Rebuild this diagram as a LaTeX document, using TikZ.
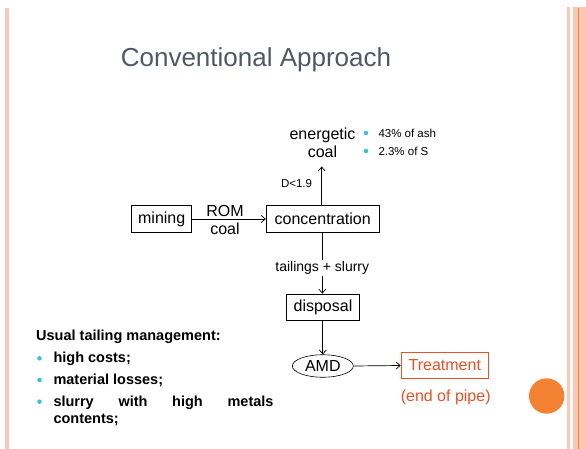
\documentclass[tikz,border=0pt]{standalone}
\usepackage{fontspec}
\setmainfont{Liberation Sans}
\usetikzlibrary{shapes.geometric,arrows.meta}
\definecolor{pale}{HTML}{FCC8B4}
\definecolor{darkor}{HTML}{F58232}
\definecolor{titlecol}{HTML}{4F5867}
\definecolor{redor}{HTML}{F04E23}
\definecolor{cyanb}{HTML}{2EC4D6}
\begin{document}
\begin{tikzpicture}[x=1pt,y=-1pt,
  box/.style={draw,line width=0.8pt,inner sep=0pt,font=\fontsize{16}{18}\selectfont},
  lbl/.style={font=\fontsize{14}{16}\selectfont,inner sep=1pt},
  small/.style={font=\fontsize{11.5}{13}\selectfont,inner sep=0pt},
  arr/.style={-{Straight Barb[length=4pt,width=7pt]},line width=0.7pt},
  bul/.style={circle,fill=cyanb,inner sep=0pt,minimum size=4.5pt},
  lt/.style={font=\fontsize{14.5}{17.6}\selectfont\bfseries,inner sep=0pt,anchor=west}]
\useasboundingbox (0,0) rectangle (586,449);
% slide decoration
\fill[pale] (4.7,8) rectangle (8.7,449);
\fill[pale] (566.7,7.5) rectangle (570,449);
\fill[pale] (572.7,7.5) rectangle (586,449);
\draw[darkor,line width=0.8pt] (578.3,8) -- (578.3,449);
\fill[darkor] (546.7,396) circle (17.7);
% title
\node[font=\fontsize{26}{30}\selectfont,text=titlecol] (title) at (256,60) {Conventional Approach};
% boxes
\node[box,minimum width=60pt,minimum height=27.5pt] (mining) at (161.7,219) {mining};
\node[box,minimum width=113pt,minimum height=27.5pt] (conc) at (322.7,219) {concentration};
\node[box,minimum width=72.5pt,minimum height=26.5pt] (disp) at (323,307.3) {disposal};
\node[draw,ellipse,line width=0.6pt,inner sep=0pt,minimum width=61pt,minimum height=22.5pt,font=\fontsize{16}{18}\selectfont] (amd) at (322.8,366) {AMD};
\node[draw=redor,line width=0.8pt,text=redor,inner sep=0pt,minimum width=87.5pt,minimum height=26.5pt,font=\fontsize{16}{18}\selectfont] (treat) at (444.8,365.5) {Treatment};
\node[text=redor,font=\fontsize{16}{18}\selectfont,inner sep=0pt] (eop) at (445.7,397) {(end of pipe)};
% energetic coal
\node[align=center,font=\fontsize{16}{18.5}\selectfont,inner sep=0pt] (ecoal) at (322.5,143) {energetic\\coal};
\coordinate (ectip) at (321.7,166.5);
\node[small,anchor=west] (b1t) at (378.3,133.5) {43\% of ash};
\node[small,anchor=west] (b2t) at (378.3,151.5) {2.3\% of S};
\node[bul] (b1) at (366,133) {};
\node[bul] (b2) at (366,151) {};
\node[small] (dlab) at (296.5,184) {D<1.9};
% connectors
\draw[arr] (conc.north -| ectip) -- (ectip);
\draw[arr] (mining.east) -- (conc.west);
\node[lbl,align=center,font=\fontsize{16}{18}\selectfont,inner sep=0pt] (rom) at (225,220) {ROM\\coal};
\node[lbl,fill=white] (tail) at (322.3,268) {tailings + slurry};
\draw[line width=0.7pt] (conc.south -| tail) -- (tail.north);
\draw[arr] (tail.south) -- (disp.north -| tail);
\draw[arr] (disp.south -| amd) -- (amd.north);
\draw[arr] (amd.east) -- (treat.west);
% left text
\node[lt] (head) at (36,336.7) {Usual tailing management:};
\node[bul] (l1) at (39.5,358.3) {};
\node[bul] (l2) at (39.5,380) {};
\node[bul] (l3) at (39.5,401.7) {};
\node[lt] (t1) at (53.3,358.3) {high costs;};
\node[lt] (t2) at (53.3,380) {material losses;};
\node[lt,anchor=north west,text width=220pt] (t3) at (53.3,395.5) {slurry\hfill with\hfill high\hfill metals\\contents;};
\end{tikzpicture}
\end{document}
